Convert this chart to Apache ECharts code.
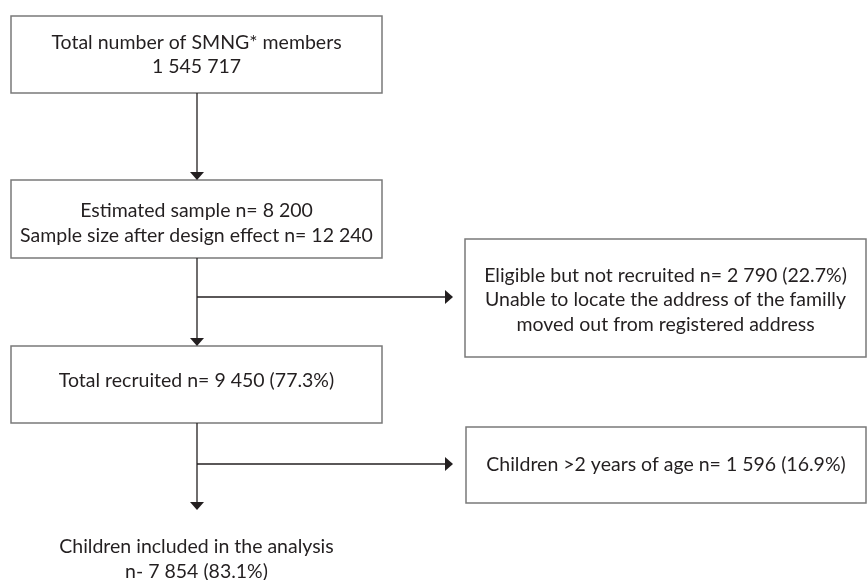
<!DOCTYPE html>
<html>
<head>
<meta charset="utf-8">
<script src="https://cdn.jsdelivr.net/npm/echarts@6/dist/echarts.min.js"></script>
<style>
  html, body { margin: 0; padding: 0; background: #fff; }
  #chart { width: 867px; height: 580px; }
</style>
</head>
<body>
<div id="chart"></div>
<script>
// flow counts
const stepNames = ['members', 'estimated', 'designEffect', 'notRecruited', 'recruited', 'over2', 'included'];
const stepCounts = [1545717, 8200, 12240, 2790, 9450, 1596, 7854];
const stepShares = [null, null, null, 22.7, 77.3, 16.9, 83.1];

function fmt(n) {
  return String(n).replace(/\B(?=(\d{3})+(?!\d))/g, ' ');
}
function cnt(name) { return fmt(stepCounts[stepNames.indexOf(name)]); }
function pct(name) { return '(' + stepShares[stepNames.indexOf(name)].toFixed(1) + '%)'; }

// text of each node
const nodeTexts = [
  ['Total number of SMNG* members', cnt('members')],
  ['Estimated sample n= ' + cnt('estimated'), 'Sample size after design effect n= ' + cnt('designEffect')],
  ['Eligible but not recruited n= ' + cnt('notRecruited') + ' ' + pct('notRecruited'),
   'Unable to locate the address of the familly', 'moved out from registered address'],
  ['Total recruited n= ' + cnt('recruited') + ' ' + pct('recruited')],
  ['Children >2 years of age n= ' + cnt('over2') + ' ' + pct('over2')],
  ['Children included in the analysis', 'n- ' + cnt('included') + ' ' + pct('included')]
];

// layout in page units (x0, y0, x1, y1); last node has no frame
const nodeBoxes = [
  [11, 16, 382, 93],
  [11, 180, 382, 258],
  [465, 239, 866, 357],
  [11, 346, 382, 423],
  [466, 427, 866, 503],
  [11, 533, 382, 585]
];
const nodeFramed = [true, true, true, true, true, false];
// vertical nudge of the text inside each node
const textShift = [0, 4, 2, -4, 0, 0];

// connectors: from point -> to point (arrow at the end)
const links = [
  [197, 93, 197, 180],
  [197, 258, 197, 346],
  [197, 423, 197, 510],
  [197, 297, 453, 297],
  [197, 464, 453, 464]
];

const chart = echarts.init(document.getElementById('chart'));

const textColor = '#231f20';
const fontFamily = 'Lato, "Noto Sans", sans-serif';

chart.setOption({
  backgroundColor: '#ffffff',
  animation: false,
  grid: { left: 0, right: 0, top: 0, bottom: 0 },
  xAxis: { type: 'value', min: 0, max: 867, show: false },
  yAxis: { type: 'value', min: 0, max: 580, inverse: true, show: false },
  series: [
    {
      type: 'custom',
      clip: false,
      data: nodeTexts.map((t, i) => [i]),
      renderItem: function (params, api) {
        const i = api.value(0);
        const b = nodeBoxes[i];
        const p0 = api.coord([b[0], b[1]]);
        const p1 = api.coord([b[2], b[3]]);
        const children = [];
        if (nodeFramed[i]) {
          children.push({
            type: 'rect',
            shape: { x: p0[0], y: p0[1], width: p1[0] - p0[0], height: p1[1] - p0[1] },
            style: { fill: 'none', stroke: '#7a7a7a', lineWidth: 1.5 }
          });
        }
        const cy = i === 5 ? p0[1] + 26 : (p0[1] + p1[1]) / 2 + textShift[i];
        children.push({
          type: 'text',
          x: (p0[0] + p1[0]) / 2,
          y: cy,
          style: {
            text: nodeTexts[i].join('\n'),
            align: 'center',
            verticalAlign: 'middle',
            fill: textColor,
            font: '19.5px ' + fontFamily,
            lineHeight: 24.5
          }
        });
        return { type: 'group', children: children };
      }
    },
    {
      type: 'custom',
      clip: false,
      data: links.map((l, i) => [i]),
      renderItem: function (params, api) {
        const l = links[api.value(0)];
        const a = api.coord([l[0], l[1]]);
        const b = api.coord([l[2], l[3]]);
        const dx = Math.sign(b[0] - a[0]);
        const dy = Math.sign(b[1] - a[1]);
        const len = 8, half = 7;
        const base = [b[0] - dx * len, b[1] - dy * len];
        return {
          type: 'group',
          children: [
            {
              type: 'line',
              shape: { x1: a[0], y1: a[1], x2: base[0], y2: base[1] },
              style: { stroke: textColor, lineWidth: 1.3 }
            },
            {
              type: 'polygon',
              shape: {
                points: [
                  b,
                  [base[0] + dy * half, base[1] + dx * half],
                  [base[0] - dy * half, base[1] - dx * half]
                ]
              },
              style: { fill: textColor }
            }
          ]
        };
      }
    }
  ]
});
</script>
</body>
</html>
